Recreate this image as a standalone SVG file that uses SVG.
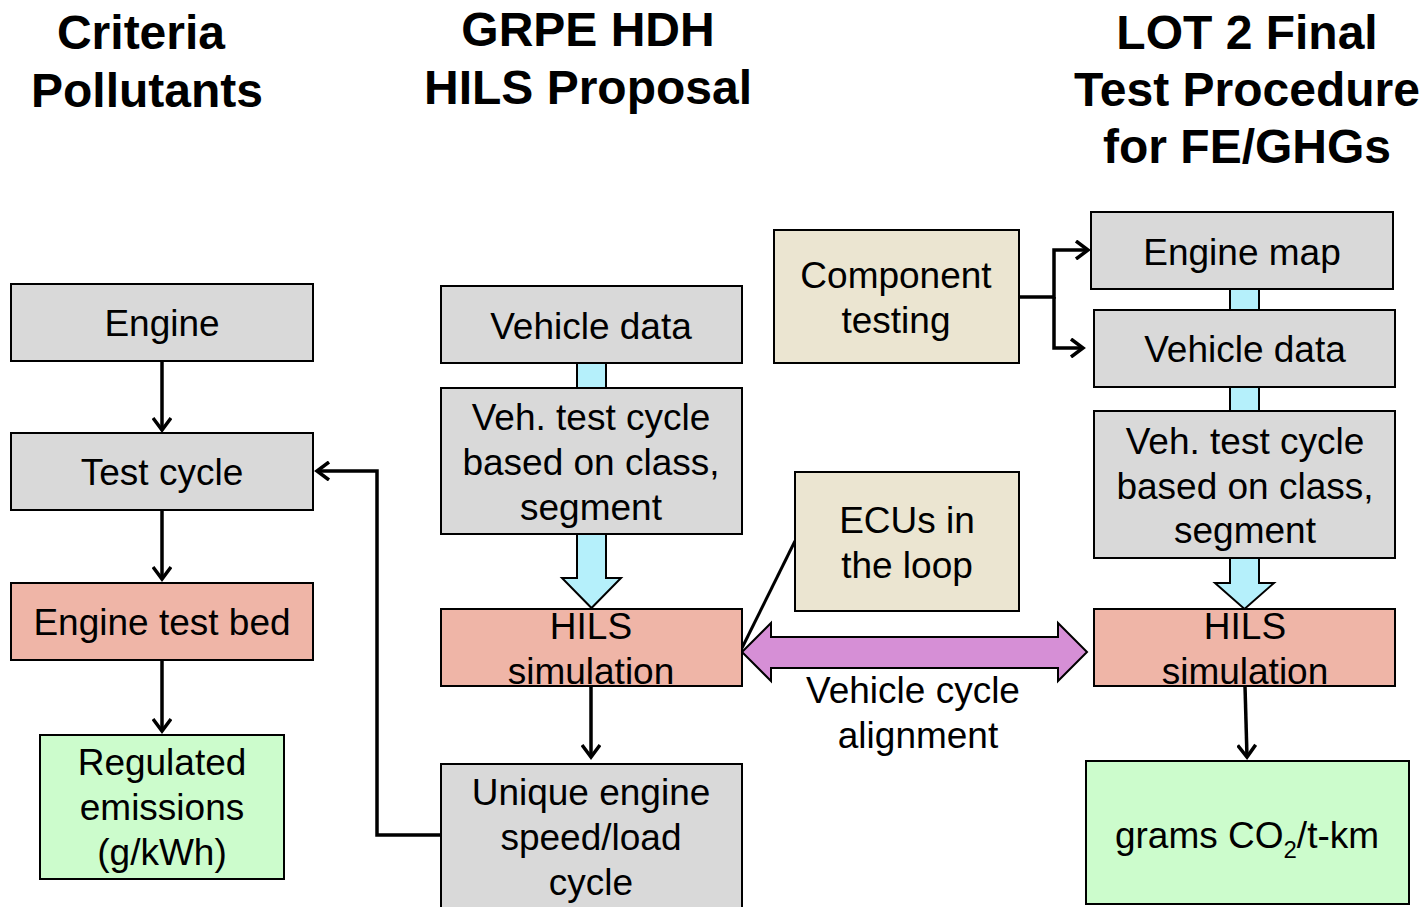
<svg xmlns="http://www.w3.org/2000/svg" width="1424" height="907" viewBox="0 0 1424 907">
<style>
text{font-family:"Liberation Sans",Arial,sans-serif;fill:#000}
.t{font-size:48px;font-weight:bold;text-anchor:middle}
.b{font-size:37px;text-anchor:middle}
.g{fill:#d9d9d9;stroke:#000;stroke-width:2}
.r{fill:#efb5a7;stroke:#000;stroke-width:2}
.n{fill:#ccfccc;stroke:#000;stroke-width:2}
.y{fill:#ebe5d1;stroke:#000;stroke-width:2}
.c{fill:#b5f0fb;stroke:#000;stroke-width:2}
.ln{fill:none;stroke:#000;stroke-width:3.5}
</style>
<defs>
<marker id="ah" markerWidth="20" markerHeight="20" refX="16" refY="10" orient="auto" markerUnits="userSpaceOnUse">
<polyline points="4,1 16,10 4,19" fill="none" stroke="#000" stroke-width="3.5"/>
</marker>
</defs>
<g id="titles">
<text class="t" x="141" y="49">Criteria</text>
<text class="t" x="147" y="107">Pollutants</text>
<text class="t" x="588" y="46">GRPE HDH</text>
<text class="t" x="588" y="104">HILS Proposal</text>
<text class="t" x="1247" y="49">LOT 2 Final</text>
<text class="t" x="1247" y="106">Test Procedure</text>
<text class="t" x="1247" y="163">for FE/GHGs</text>
</g>
<g id="connectors">
<line class="ln" x1="162" y1="361" x2="162" y2="430" marker-end="url(#ah)"/>
<line class="ln" x1="162" y1="510" x2="162" y2="579" marker-end="url(#ah)"/>
<line class="ln" x1="162" y1="660" x2="162" y2="731" marker-end="url(#ah)"/>
<polyline class="ln" points="441,835 377,835 377,471 317,471" marker-end="url(#ah)"/>
<line class="ln" x1="591" y1="686" x2="591" y2="757" marker-end="url(#ah)"/>
<line class="ln" x1="1245" y1="686" x2="1247" y2="757" marker-end="url(#ah)"/>
<polyline class="ln" points="1019,297 1054,297 1054,250 1088,250" marker-end="url(#ah)"/>
<polyline class="ln" points="1054,297 1054,348 1083,348" marker-end="url(#ah)"/>
<line x1="795" y1="541" x2="742" y2="648" stroke="#000" stroke-width="3"/>
<rect class="c" x="577" y="363" width="29" height="25"/>
<polygon class="c" points="577,534 606,534 606,578 621,578 591.5,608 562,578 577,578"/>
<rect class="c" x="1230" y="289" width="29" height="21"/>
<rect class="c" x="1230" y="387" width="29" height="24"/>
<polygon class="c" points="1230,558 1259,558 1259,583 1274,583 1244.5,609 1215,583 1230,583"/>
<polygon points="742,652 771,623 771,637 1058,637 1058,623 1087,652 1058,681 1058,668 771,668 771,681" fill="#d68fd6" stroke="#000" stroke-width="2"/>
<text class="b" x="913" y="703">Vehicle cycle</text>
<text class="b" x="918" y="748">alignment</text>
</g>
<g id="engine"><rect class="g" x="11" y="284" width="302" height="77"/><text class="b" x="162" y="336">Engine</text></g>
<g id="testcycle"><rect class="g" x="11" y="433" width="302" height="77"/><text class="b" x="162" y="485">Test cycle</text></g>
<g id="testbed"><rect class="r" x="11" y="583" width="302" height="77"/><text class="b" x="162" y="635">Engine test bed</text></g>
<g id="regulated"><rect class="n" x="40" y="735" width="244" height="144"/><text class="b" x="162" y="775">Regulated</text><text class="b" x="162" y="820">emissions</text><text class="b" x="162" y="865">(g/kWh)</text></g>
<g id="vehdata1"><rect class="g" x="441" y="286" width="301" height="77"/><text class="b" x="591" y="339">Vehicle data</text></g>
<g id="vehcycle1"><rect class="g" x="441" y="388" width="301" height="146"/><text class="b" x="591" y="430">Veh. test cycle</text><text class="b" x="591" y="475">based on class,</text><text class="b" x="591" y="520">segment</text></g>
<g id="hils1"><rect class="r" x="441" y="609" width="301" height="77"/><text class="b" x="591" y="639">HILS</text><text class="b" x="591" y="684">simulation</text></g>
<g id="unique"><rect class="g" x="441" y="764" width="301" height="150"/><text class="b" x="591" y="805">Unique engine</text><text class="b" x="591" y="850">speed/load</text><text class="b" x="591" y="895">cycle</text></g>
<g id="component"><rect class="y" x="774" y="230" width="245" height="133"/><text class="b" x="896" y="288">Component</text><text class="b" x="896" y="333">testing</text></g>
<g id="ecus"><rect class="y" x="795" y="472" width="224" height="139"/><text class="b" x="907" y="533">ECUs in</text><text class="b" x="907" y="578">the loop</text></g>
<g id="enginemap"><rect class="g" x="1091" y="212" width="302" height="77"/><text class="b" x="1242" y="265">Engine map</text></g>
<g id="vehdata2"><rect class="g" x="1094" y="310" width="301" height="77"/><text class="b" x="1245" y="362">Vehicle data</text></g>
<g id="vehcycle2"><rect class="g" x="1094" y="411" width="301" height="147"/><text class="b" x="1245" y="454">Veh. test cycle</text><text class="b" x="1245" y="499">based on class,</text><text class="b" x="1245" y="543">segment</text></g>
<g id="hils2"><rect class="r" x="1094" y="609" width="301" height="77"/><text class="b" x="1245" y="639">HILS</text><text class="b" x="1245" y="684">simulation</text></g>
<g id="grams"><rect class="n" x="1086" y="761" width="323" height="143"/><text class="b" x="1247" y="848">grams CO<tspan font-size="24" dy="10">2</tspan><tspan dy="-10">/t-km</tspan></text></g>
</svg>
